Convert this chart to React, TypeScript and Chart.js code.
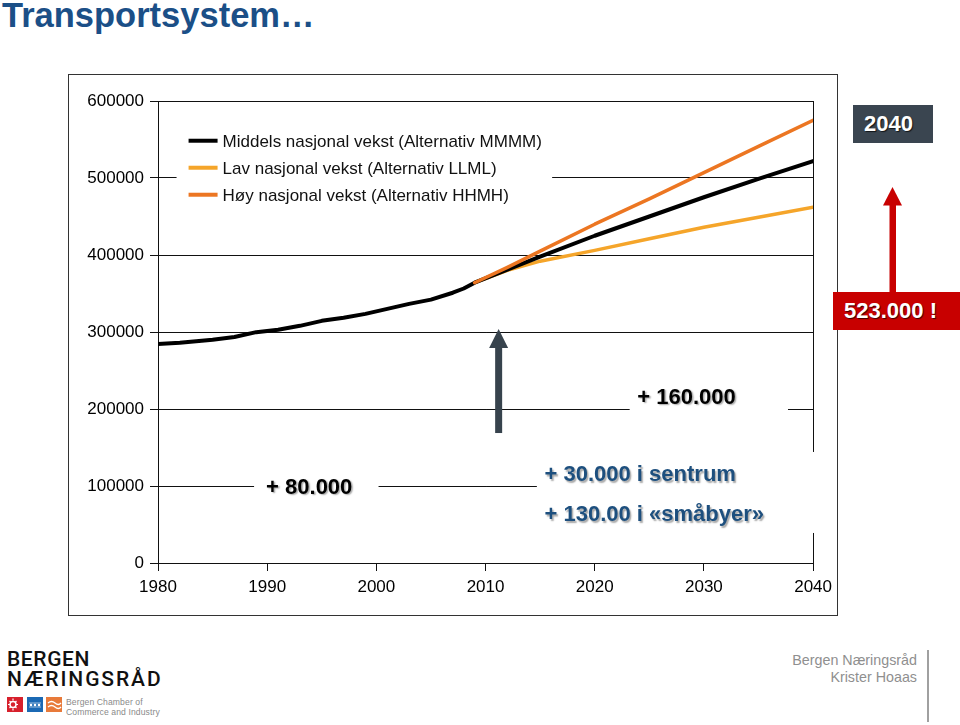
import React, { useEffect, useRef } from "react";
import { Chart, registerables } from "chart.js";

Chart.register(...registerables);

const FONT = "'Liberation Sans', Arial, Helvetica, sans-serif";

// ---- data ----
const historyYears = [1980, 1982, 1985, 1987, 1989, 1991, 1993, 1995, 1997, 1999, 2001, 2003, 2005, 2007, 2008, 2009];
const historyValues = [284400, 286000, 290000, 293500, 299800, 303000, 308000, 314500, 318500, 323500, 330000, 336500, 342000, 351000, 356500, 364000];

const projectionYears = [2009, 2012, 2015, 2020, 2025, 2030, 2035, 2040];
const middelsValues = [364000, 381000, 398000, 425000, 450000, 475000, 499000, 522000];
const lavValues = [364000, 380000, 392000, 406000, 421000, 436000, 449000, 462000];
const hoyValues = [364000, 384000, 405000, 440000, 473000, 507000, 541000, 575000];

const seriesLabels = [
  "Middels nasjonal vekst (Alternativ MMMM)",
  "Lav nasjonal vekst (Alternativ LLML)",
  "Høy nasjonal vekst (Alternativ HHMH)",
];
const seriesColors = ["#000000", "#F5A52A", "#EC7622"];

const xMin = 1980;
const xMax = 2040;
const xStep = 10;
const yMin = 0;
const yMax = 600000;
const yStep = 100000;

// annotation positions in data units
const legendAnchor = { x: 1982.8, y: 548400 };
const whiteMasks = [
  { x0: 1981.7, x1: 2016.1, y0: 582000, y1: 452000 },
  { x0: 2023.2, x1: 2037.7, y0: 235000, y1: 185700 },
  { x0: 1988.8, x1: 2000.2, y0: 120800, y1: 75300 },
  { x0: 2014.7, x1: 2040.8, y0: 144200, y1: 39000 },
];
const annotationTexts = [
  { text: "+ 160.000", x: 2023.9, y: 216900, color: "#000000" },
  { text: "+ 80.000", x: 1989.9, y: 100000, color: "#000000" },
  { text: "+ 30.000 i sentrum", x: 2015.4, y: 116200, color: "#1D4F7E" },
  { text: "+ 130.00 i «småbyer»", x: 2015.4, y: 64500, color: "#1D4F7E" },
];
const darkArrow = { x: 2011.2, tip: 303900, headBase: 279200, bottom: 168800 };

const overlayPlugin = {
  id: "overlay",
  beforeDatasetsDraw(chart: any) {
    const { ctx, chartArea, scales } = chart;
    const x = scales.x;
    const y = scales.y;
    ctx.save();
    ctx.strokeStyle = "#111";
    ctx.lineWidth = 1;
    const rx = Math.round(chartArea.right) + 0.5;
    ctx.beginPath();
    ctx.moveTo(rx, chartArea.top);
    ctx.lineTo(rx, chartArea.bottom);
    ctx.stroke();
    ctx.fillStyle = "#ffffff";
    whiteMasks.forEach((m) => {
      const a = x.getPixelForValue(m.x0);
      const b = x.getPixelForValue(m.x1);
      const c = y.getPixelForValue(m.y0);
      const d = y.getPixelForValue(m.y1);
      ctx.fillRect(Math.min(a, b), Math.min(c, d), Math.abs(b - a), Math.abs(d - c));
    });
    ctx.restore();
  },
  afterDatasetsDraw(chart: any) {
    const { ctx, scales } = chart;
    const x = scales.x;
    const y = scales.y;
    ctx.save();
    // legend
    const lx = x.getPixelForValue(legendAnchor.x);
    const ly = y.getPixelForValue(legendAnchor.y);
    seriesLabels.forEach((label, i) => {
      const cy = ly + i * 27;
      ctx.strokeStyle = seriesColors[i];
      ctx.lineWidth = 4;
      ctx.lineCap = "butt";
      ctx.beginPath();
      ctx.moveTo(lx, cy);
      ctx.lineTo(lx + 29, cy);
      ctx.stroke();
      ctx.fillStyle = "#111";
      ctx.font = `17px ${FONT}`;
      ctx.textAlign = "left";
      ctx.textBaseline = "alphabetic";
      ctx.fillText(label, lx + 34, cy + 0.36 * 17);
    });
    // dark arrow
    const ax = x.getPixelForValue(darkArrow.x);
    const tip = y.getPixelForValue(darkArrow.tip);
    const hb = y.getPixelForValue(darkArrow.headBase);
    const bot = y.getPixelForValue(darkArrow.bottom);
    ctx.fillStyle = "#37434D";
    ctx.fillRect(ax - 3.5, hb - 1, 7, bot - hb + 1);
    ctx.beginPath();
    ctx.moveTo(ax, tip);
    ctx.lineTo(ax + 9.5, hb);
    ctx.lineTo(ax - 9.5, hb);
    ctx.closePath();
    ctx.fill();
    // annotation texts
    ctx.font = `bold 22px ${FONT}`;
    ctx.textAlign = "left";
    ctx.textBaseline = "alphabetic";
    ctx.shadowColor = "rgba(0,0,0,0.35)";
    ctx.shadowOffsetX = 1.5;
    ctx.shadowOffsetY = 1.5;
    ctx.shadowBlur = 1.5;
    annotationTexts.forEach((a) => {
      ctx.fillStyle = a.color;
      ctx.fillText(a.text, x.getPixelForValue(a.x), y.getPixelForValue(a.y) + 0.36 * 22);
    });
    ctx.restore();
  },
};

function ChartCanvas() {
  const ref = useRef<HTMLCanvasElement | null>(null);
  useEffect(() => {
    if (!ref.current) return;
    const toPts = (xs: number[], ys: number[]) => xs.map((v, i) => ({ x: v, y: ys[i] }));
    const chart = new Chart(ref.current, {
      type: "line",
      data: {
        datasets: [
          {
            label: seriesLabels[0],
            data: [...toPts(historyYears, historyValues), ...toPts(projectionYears.slice(1), middelsValues.slice(1))],
            borderColor: seriesColors[0],
            borderWidth: 4,
            pointRadius: 0,
            tension: 0,
            order: 1,
          },
          {
            label: seriesLabels[1],
            data: toPts(projectionYears, lavValues),
            borderColor: seriesColors[1],
            borderWidth: 3.5,
            pointRadius: 0,
            tension: 0,
            order: 2,
          },
          {
            label: seriesLabels[2],
            data: toPts(projectionYears, hoyValues),
            borderColor: seriesColors[2],
            borderWidth: 3.5,
            pointRadius: 0,
            tension: 0,
            order: 0,
          },
        ],
      },
      options: {
        animation: false,
        responsive: false,
        maintainAspectRatio: false,
        layout: { padding: { left: 0, top: 27, right: 21, bottom: 0 } },
        plugins: { legend: { display: false }, tooltip: { enabled: false } },
        elements: { line: { borderJoinStyle: "round", borderCapStyle: "round" } },
        scales: {
          x: {
            type: "linear",
            min: xMin,
            max: xMax,
            ticks: {
              stepSize: xStep,
              color: "#000",
              font: { family: FONT, size: 17 },
              padding: 6,
              maxRotation: 0,
              callback: (v: any) => String(v),
            },
            grid: { drawOnChartArea: false, drawTicks: true, tickLength: 8, color: "#111" },
            border: { color: "#111", width: 1 },
            afterFit: (s: any) => {
              s.height = 53;
            },
          },
          y: {
            type: "linear",
            min: yMin,
            max: yMax,
            ticks: {
              stepSize: yStep,
              color: "#000",
              font: { family: FONT, size: 17 },
              padding: 6,
              callback: (v: any) => String(v),
            },
            grid: { color: "#111", lineWidth: 1, tickLength: 8 },
            border: { color: "#111", width: 1 },
            afterFit: (s: any) => {
              s.width = 90;
            },
          },
        },
      },
      plugins: [overlayPlugin],
    });
    return () => chart.destroy();
  }, []);
  return <canvas ref={ref} width={770} height={542} style={{ display: "block", width: 770, height: 542 }} />;
}

export default function App() {
  return (
    <div
      style={{
        position: "absolute",
        left: 0,
        top: 0,
        width: 960,
        height: 725,
        background: "#fff",
        overflow: "hidden",
        fontFamily: FONT,
      }}
    >
      <div
        style={{
          position: "absolute",
          left: 2,
          top: -2,
          fontSize: 34.5,
          lineHeight: 1,
          fontWeight: "bold",
          color: "#1B4F87",
          whiteSpace: "nowrap",
        }}
      >
        Transportsystem…
      </div>

      <div
        style={{
          position: "absolute",
          left: 68,
          top: 74,
          width: 770,
          height: 542,
          border: "1px solid #333",
          boxSizing: "border-box",
        }}
      />
      <div style={{ position: "absolute", left: 68, top: 74, width: 770, height: 542 }}>
        <ChartCanvas />
      </div>

      <div
        style={{
          position: "absolute",
          left: 853,
          top: 105,
          width: 80,
          height: 38,
          background: "#3A4550",
          color: "#fff",
          fontWeight: "bold",
          fontSize: 22,
          lineHeight: "38px",
          paddingLeft: 11,
          boxSizing: "border-box",
          textShadow: "1px 1px 1px rgba(0,0,0,0.7)",
        }}
      >
        2040
      </div>

      <svg style={{ position: "absolute", left: 883, top: 187 }} width={19} height={106}>
        <rect x={6.5} y={17} width={6.5} height={89} fill="#C80000" />
        <polygon points="0,18.5 9.5,0 19,18.5" fill="#C80000" />
      </svg>

      <div
        style={{
          position: "absolute",
          left: 833,
          top: 292,
          width: 130,
          height: 38,
          background: "#C80000",
          color: "#fff",
          fontWeight: "bold",
          fontSize: 22,
          lineHeight: "38px",
          paddingLeft: 11,
          boxSizing: "border-box",
          whiteSpace: "nowrap",
          textShadow: "1px 1px 1px rgba(0,0,0,0.7)",
        }}
      >
        523.000 !
      </div>

      {/* footer logo */}
      <div
        style={{
          position: "absolute",
          left: 7,
          top: 649,
          fontFamily: "Roboto, 'Liberation Sans', sans-serif",
          fontWeight: 500,
          fontSize: 21,
          lineHeight: "20px",
          color: "#111",
          whiteSpace: "nowrap",
        }}
      >
        <div style={{ letterSpacing: 0.6 }}>BERGEN</div>
        <div style={{ letterSpacing: 1.9 }}>NÆRINGSRÅD</div>
      </div>
      <svg style={{ position: "absolute", left: 7, top: 697 }} width={56} height={16}>
        <rect x={0} y={0} width={16} height={15} fill="#D7202C" />
        <circle cx={6} cy={7.5} r={3} fill="none" stroke="#fff" strokeWidth={1.5} />
        <path d="M6 1.5v2M6 11.5v2M1 7.5h2M9 7.5h2M2.5 4l1.4 1.4M8.1 9.6l1.4 1.4M2.5 11l1.4-1.4M8.1 5.4l1.4-1.4" stroke="#fff" strokeWidth={1.2} />
        <rect x={20} y={0} width={16} height={15} fill="#1B69B4" />
        <circle cx={24} cy={8} r={1.3} fill="#fff" />
        <circle cx={28} cy={8} r={1.3} fill="#fff" />
        <circle cx={32} cy={8} r={1.3} fill="#fff" />
        <path d="M22 6h12M22 10h12" stroke="#fff" strokeWidth={0.6} />
        <rect x={39} y={0} width={16} height={15} fill="#E87A3A" />
        <path d="M41 6q3.5-3 7 0t6 0M41 10q3.5-3 7 0t6 0" stroke="#fff" strokeWidth={1.3} fill="none" />
      </svg>
      <div
        style={{
          position: "absolute",
          left: 66,
          top: 697,
          fontSize: 8.6,
          lineHeight: "10px",
          color: "#8a8a8a",
          whiteSpace: "nowrap",
          letterSpacing: 0.1,
        }}
      >
        <div>Bergen Chamber of</div>
        <div>Commerce and Industry</div>
      </div>

      {/* footer right */}
      <div
        style={{
          position: "absolute",
          left: 700,
          top: 652,
          width: 217,
          textAlign: "right",
          fontSize: 14.3,
          lineHeight: "16.7px",
          color: "#8F8F8F",
          whiteSpace: "nowrap",
        }}
      >
        <div>Bergen Næringsråd</div>
        <div>Krister Hoaas</div>
      </div>
      <div style={{ position: "absolute", left: 927, top: 650, width: 2, height: 72, background: "#A0A0A0" }} />
    </div>
  );
}
